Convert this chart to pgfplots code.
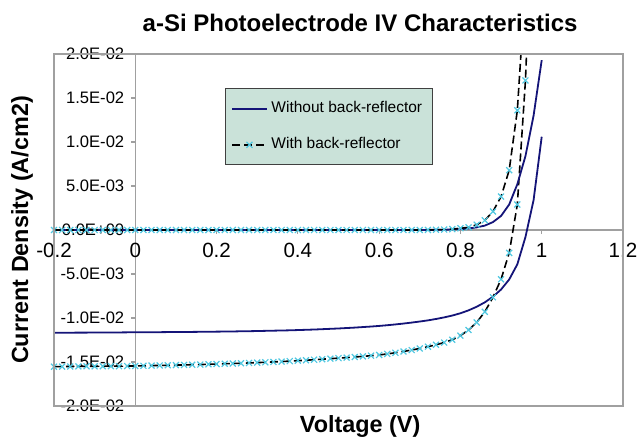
\documentclass[border=0pt]{standalone}
\usepackage{pgfplots}
\pgfplotsset{compat=1.18}
\usepackage{pgfplotstable}
\usepackage{fontspec}
\setmainfont{Liberation Sans}
\definecolor{navyline}{RGB}{20,20,120}
\definecolor{cyanmark}{RGB}{80,200,225}
\definecolor{axgray}{RGB}{160,160,160}
\definecolor{legfill}{RGB}{202,226,217}

% Without back-reflector, illuminated
\pgfplotstableread{
V J
-0.20 -0.01168
-0.18 -0.01167
-0.16 -0.01167
-0.14 -0.01166
-0.12 -0.01166
-0.10 -0.01165
-0.08 -0.01165
-0.06 -0.01164
-0.04 -0.01164
-0.02 -0.01163
0.00 -0.01163
0.02 -0.01162
0.04 -0.01162
0.06 -0.01161
0.08 -0.01160
0.10 -0.01160
0.12 -0.01159
0.14 -0.01158
0.16 -0.01157
0.18 -0.01156
0.20 -0.01155
0.22 -0.01154
0.24 -0.01153
0.26 -0.01151
0.28 -0.01150
0.30 -0.01148
0.32 -0.01146
0.34 -0.01144
0.36 -0.01142
0.38 -0.01140
0.40 -0.01137
0.42 -0.01134
0.44 -0.01131
0.46 -0.01127
0.48 -0.01123
0.50 -0.01119
0.52 -0.01114
0.54 -0.01109
0.56 -0.01103
0.58 -0.01097
0.60 -0.01090
0.62 -0.01082
0.64 -0.01073
0.66 -0.01063
0.68 -0.01052
0.70 -0.01040
0.72 -0.01027
0.74 -0.01011
0.76 -0.00993
0.78 -0.00972
0.80 -0.00946
0.82 -0.00913
0.84 -0.00872
0.86 -0.00822
0.88 -0.00758
0.90 -0.00676
0.92 -0.00562
0.94 -0.00390
0.96 -0.00080
0.98 0.00340
1.00 0.01060
}\woLight

% Without back-reflector, dark
\pgfplotstableread{
V J
-0.20 0.00000
-0.18 0.00000
-0.16 0.00000
-0.14 0.00000
-0.12 0.00000
-0.10 0.00000
-0.08 0.00000
-0.06 0.00000
-0.04 0.00000
-0.02 0.00000
0.00 0.00000
0.02 0.00000
0.04 0.00000
0.06 0.00000
0.08 0.00000
0.10 0.00000
0.12 0.00000
0.14 0.00000
0.16 0.00000
0.18 0.00000
0.20 0.00000
0.22 0.00000
0.24 0.00000
0.26 0.00000
0.28 0.00000
0.30 0.00000
0.32 0.00000
0.34 0.00000
0.36 0.00000
0.38 0.00000
0.40 0.00000
0.42 0.00000
0.44 0.00000
0.46 0.00000
0.48 0.00000
0.50 0.00000
0.52 0.00000
0.54 0.00000
0.56 0.00000
0.58 0.00000
0.60 0.00000
0.62 0.00000
0.64 0.00000
0.66 0.00000
0.68 0.00000
0.70 0.00000
0.72 0.00001
0.74 0.00002
0.76 0.00003
0.78 0.00006
0.80 0.00010
0.82 0.00017
0.84 0.00030
0.86 0.00050
0.88 0.00090
0.90 0.00160
0.92 0.00290
0.94 0.00520
0.96 0.00840
0.98 0.01300
1.00 0.01930
}\woDark

% With back-reflector, illuminated
\pgfplotstableread{
V J
-0.20 -0.01553
-0.18 -0.01552
-0.16 -0.01551
-0.14 -0.01550
-0.12 -0.01549
-0.10 -0.01549
-0.08 -0.01548
-0.06 -0.01547
-0.04 -0.01547
-0.02 -0.01546
0.00 -0.01545
0.02 -0.01543
0.04 -0.01541
0.06 -0.01539
0.08 -0.01537
0.10 -0.01535
0.12 -0.01533
0.14 -0.01531
0.16 -0.01529
0.18 -0.01526
0.20 -0.01523
0.22 -0.01520
0.24 -0.01517
0.26 -0.01514
0.28 -0.01511
0.30 -0.01507
0.32 -0.01503
0.34 -0.01499
0.36 -0.01495
0.38 -0.01490
0.40 -0.01485
0.42 -0.01480
0.44 -0.01474
0.46 -0.01468
0.48 -0.01462
0.50 -0.01456
0.52 -0.01450
0.54 -0.01443
0.56 -0.01436
0.58 -0.01428
0.60 -0.01420
0.62 -0.01408
0.64 -0.01395
0.66 -0.01380
0.68 -0.01364
0.70 -0.01346
0.72 -0.01326
0.74 -0.01304
0.76 -0.01279
0.78 -0.01247
0.80 -0.01200
0.82 -0.01136
0.84 -0.01050
0.86 -0.00930
0.88 -0.00765
0.90 -0.00560
0.92 -0.00260
0.94 0.00290
0.96 0.01700
0.98 0.04000
1.00 0.07000
}\wLight

% With back-reflector, dark
\pgfplotstableread{
V J
-0.20 0.00000
-0.18 0.00000
-0.16 0.00000
-0.14 0.00000
-0.12 0.00000
-0.10 0.00000
-0.08 0.00000
-0.06 0.00000
-0.04 0.00000
-0.02 0.00000
0.00 0.00000
0.02 0.00000
0.04 0.00000
0.06 0.00000
0.08 0.00000
0.10 0.00000
0.12 0.00000
0.14 0.00000
0.16 0.00000
0.18 0.00000
0.20 0.00000
0.22 0.00000
0.24 0.00000
0.26 0.00000
0.28 0.00000
0.30 0.00000
0.32 0.00000
0.34 0.00000
0.36 0.00000
0.38 0.00000
0.40 0.00000
0.42 0.00000
0.44 0.00000
0.46 0.00000
0.48 0.00000
0.50 0.00000
0.52 0.00000
0.54 0.00000
0.56 0.00000
0.58 0.00000
0.60 0.00000
0.62 0.00000
0.64 0.00000
0.66 0.00000
0.68 0.00000
0.70 0.00000
0.72 0.00001
0.74 0.00003
0.76 0.00005
0.78 0.00010
0.80 0.00020
0.82 0.00030
0.84 0.00060
0.86 0.00110
0.88 0.00210
0.90 0.00380
0.92 0.00680
0.94 0.01360
0.96 0.02800
0.98 0.05600
1.00 0.10000
}\wDark

\begin{document}
\begin{tikzpicture}
\path[use as bounding box] (0,0) rectangle (322pt,220pt);
\begin{axis}[
  name=ax,
  at={(27pt,17pt)}, anchor=south west,
  scale only axis, width=284.5pt, height=176pt,
  xmin=-0.2, xmax=1.2, ymin=-0.02, ymax=0.02,
  axis lines=middle,
  hide obscured x ticks=false, hide obscured y ticks=false,
  scaled y ticks=false, scaled x ticks=false,
  axis line style={draw=axgray, line width=0.75pt, -},
  xtick={-0.2,0,0.2,0.4,0.6,0.8,1,1.2},
  xticklabels={-0.2,0,0.2,0.4,0.6,0.8,1,1.2},
  ytick={-0.02,-0.015,-0.01,-0.005,0,0.005,0.01,0.015,0.02},
  yticklabels={-2.0E-02,-1.5E-02,-1.0E-02,-5.0E-03,0.0E+00,5.0E-03,1.0E-02,1.5E-02,2.0E-02},
  tick align=outside, major tick length=2pt,
  tick style={draw=axgray, line width=0.6pt},
  xticklabel style={font=\fontsize{10.3}{12}\selectfont, yshift=-1pt},
  yticklabel style={font=\fontsize{8.3}{10}\selectfont},
  title={a-Si Photoelectrode IV Characteristics},
  xlabel={Voltage (V)},
  every axis title/.style={at={(rel axis cs:0.538,1)}, anchor=base, yshift=11.2pt, font=\bfseries\fontsize{12}{14}\selectfont},
  every axis x label/.style={at={(rel axis cs:0.538,0)}, anchor=base, yshift=-13pt, font=\bfseries\fontsize{11.7}{14}\selectfont},
  legend style={at={(0.3005,0.9034)}, anchor=north west, draw=black!75, fill=legfill, line width=0.5pt,
    font=\fontsize{7.75}{9}\selectfont, inner xsep=3pt, inner ysep=4.5pt, row sep=7pt, nodes={inner sep=2pt}},
  legend cell align=left,
  after end axis/.code={\draw[axgray, line width=0.75pt] (rel axis cs:0,0) rectangle (rel axis cs:1,1);},
]
\addplot[navyline, line width=0.9pt, no markers] table[x=V,y=J] {\woLight};
\addlegendentry{Without back-reflector}
\addplot[black, line width=0.8pt, dash pattern=on 4pt off 2pt, mark=x, mark size=2.1pt,
  mark options={solid, draw=cyanmark, line width=0.6pt}] table[x=V,y=J] {\wLight};
\addlegendentry{With back-reflector}
\addplot[navyline, line width=0.9pt, no markers, forget plot] table[x=V,y=J] {\woDark};
\addplot[black, line width=0.8pt, dash pattern=on 4pt off 2pt, mark=x, mark size=2.1pt,
  mark options={solid, draw=cyanmark, line width=0.6pt}, forget plot] table[x=V,y=J] {\wDark};
\end{axis}
\node[rotate=90, anchor=base, font=\bfseries\fontsize{11.7}{14}\selectfont, inner sep=0pt]
  at ([xshift=-13pt]ax.west) {Current Density (A/cm2)};
\end{tikzpicture}
\end{document}
